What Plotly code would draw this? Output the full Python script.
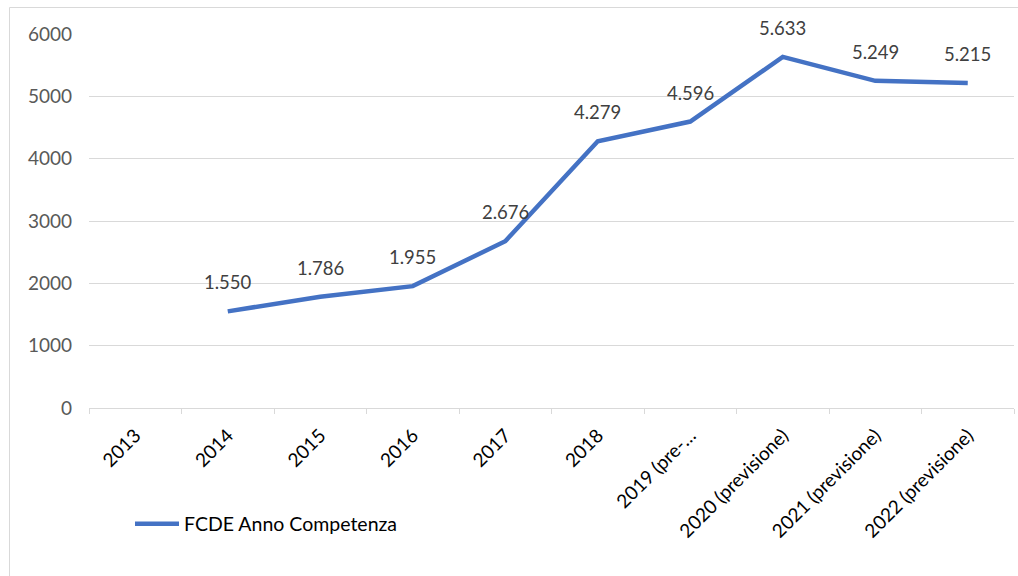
import plotly.graph_objects as go

categories = ["2013", "2014", "2015", "2016", "2017", "2018",
              "2019 (pre-…", "2020 (previsione)", "2021 (previsione)", "2022 (previsione)"]
values = [None, 1550, 1786, 1955, 2676, 4279, 4596, 5633, 5249, 5215]
series_name = "FCDE Anno Competenza"
y_ticks = [0, 1000, 2000, 3000, 4000, 5000, 6000]

def it_fmt(v):
    return f"{v:,}".replace(",", ".")

FONT = "Lato, 'Open Sans', sans-serif"
L, R, T, B = 89, 4, 34, 168
W, H = 1018, 576
pw, ph = W - L - R, H - T - B

fig = go.Figure()
fig.add_trace(go.Scatter(
    x=categories, y=values, mode="lines", name=series_name,
    line=dict(color="#4472C4", width=4.5), connectgaps=False,
    hoverinfo="skip",
))

annotations = []
for i, v in enumerate(values):
    if v is None:
        continue
    annotations.append(dict(
        x=i, y=v, xref="x", yref="y", text=it_fmt(v), showarrow=False,
        yshift=29, font=dict(family=FONT, size=18.5, color="#404040"),
    ))

fig.update_layout(
    width=W, height=H,
    margin=dict(l=L, r=R, t=T, b=B, autoexpand=False),
    paper_bgcolor="white", plot_bgcolor="white",
    showlegend=True,
    legend=dict(orientation="h", xref="container", yref="container",
                x=130 / W, xanchor="left",
                y=1 - 524 / H, yanchor="middle",
                font=dict(family=FONT, size=19.5, color="#000000"),
                bgcolor="rgba(0,0,0,0)", itemwidth=44),
    annotations=annotations,
    shapes=[dict(type="rect", xref="paper", yref="paper",
                 x0=(9.5 - L) / pw, x1=1.2, y0=-0.8, y1=(ph + (T - 7.5)) / ph,
                 line=dict(color="#d9d9d9", width=1), layer="below")],
)
fig.update_xaxes(
    type="category", range=[-0.5, 9.5], tickson="boundaries",
    ticks="outside", ticklen=5, tickcolor="#d9d9d9",
    showgrid=False, showline=True, linecolor="#d9d9d9", linewidth=1,
    tickangle=-45, ticklabelstandoff=8, automargin=False,
    tickfont=dict(family=FONT, size=19, color="#000000"),
    fixedrange=True,
)
fig.update_yaxes(
    range=[0, 6000], tickvals=y_ticks, ticktext=[str(t) for t in y_ticks],
    showgrid=True, gridcolor="#d9d9d9", gridwidth=1,
    zeroline=False, showline=False, ticks="", automargin=False,
    ticklabelstandoff=16,
    tickfont=dict(family=FONT, size=19, color="#595959"),
    fixedrange=True,
)

fig.write_html("out.html", config={"displayModeBar": False, "staticPlot": True},
               post_script="document.body.style.margin='0';document.body.style.overflow='hidden';")
